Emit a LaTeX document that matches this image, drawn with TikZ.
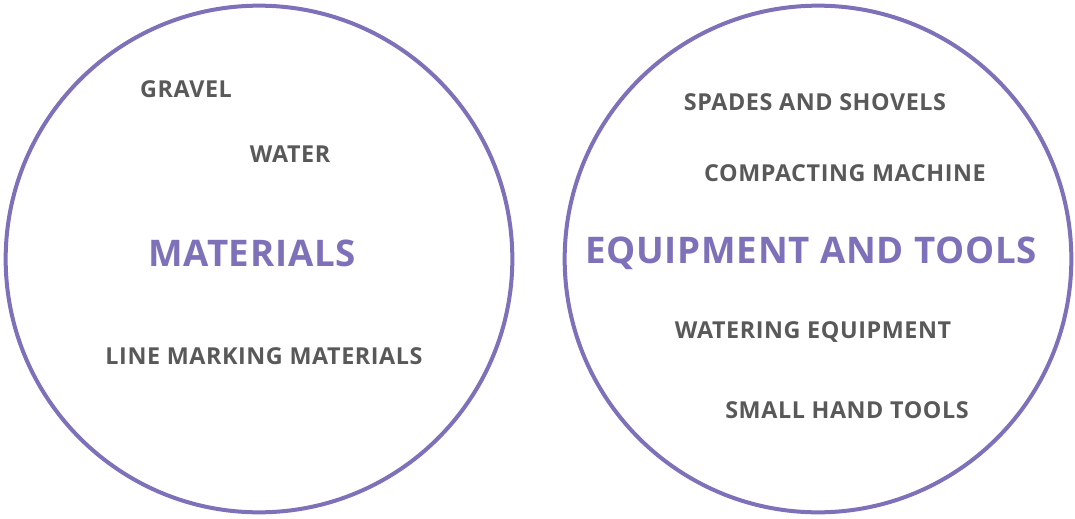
\documentclass[tikz,border=0pt]{standalone}
\usepackage{fontspec}
\setmainfont{Open Sans}
\usetikzlibrary{positioning}
\definecolor{ringpurple}{HTML}{7F70BA}
\definecolor{itemgray}{HTML}{595959}

\begin{document}
\begin{tikzpicture}[x=0.75pt,y=-0.75pt,
    ring/.style={circle,draw=ringpurple,line width=3pt,minimum size=380pt,inner sep=0pt},
    title/.style={text=ringpurple,font=\fontsize{27.5}{30}\selectfont\bfseries\addfontfeatures{LetterSpace=2}},
    item/.style={text=itemgray,font=\fontsize{17.5}{20}\selectfont\bfseries\addfontfeatures{LetterSpace=2.5}}]
  \useasboundingbox (0,0) rectangle (1075,518);
  % the two groups
  \node[ring] (matring) at (259,259) {};
  \node[ring] (eqring) at (818,259) {};
  \node[title] (mattitle) at (252,253) {MATERIALS};
  \node[title] (eqtitle) at (811,253) {EQUIPMENT AND TOOLS};
  % materials
  \node[item] (gravel) at (186,89) {GRAVEL};
  \node[item] (water) at (290,154) {WATER};
  \node[item] (linemark) at (264,356) {LINE MARKING MATERIALS};
  % equipment
  \node[item] (spades) at (815,102) {SPADES AND SHOVELS};
  \node[item] (compact) at (845,173) {COMPACTING MACHINE};
  \node[item] (watering) at (813,332) {WATERING EQUIPMENT};
  \node[item] (handtools) at (847,410) {SMALL HAND TOOLS};
\end{tikzpicture}
\end{document}
